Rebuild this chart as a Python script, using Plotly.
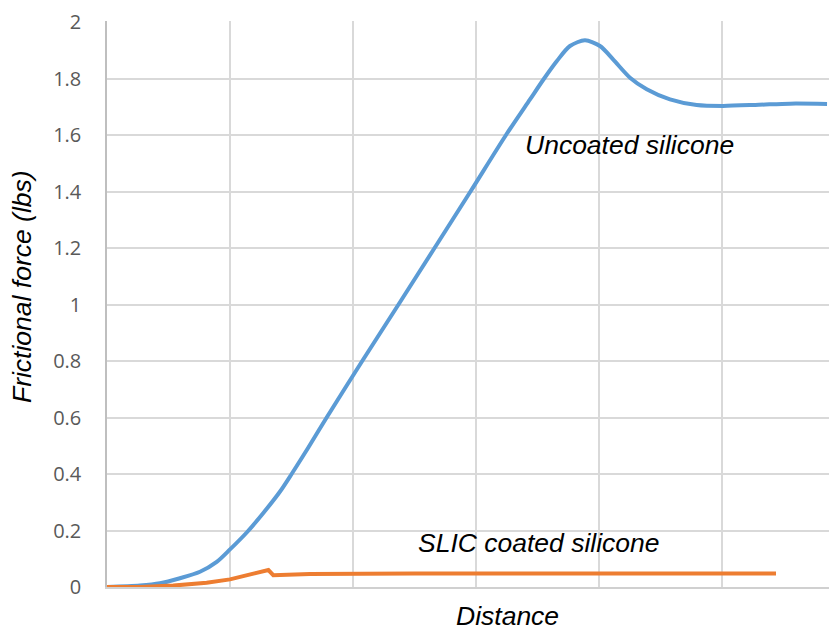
import plotly.graph_objects as go

# Data (x in gridline units, y in lbs)
uncoated_x = [0.0, 0.268, 0.431, 0.593, 0.756, 0.892, 1.0, 1.136, 1.271, 1.407, 1.501,
              1.637, 1.786, 2.075, 2.370, 2.663, 2.955, 3.244, 3.439, 3.554, 3.656,
              3.764, 3.886, 4.008, 4.116, 4.252, 4.388, 4.577, 4.794, 5.010, 5.300,
              5.553, 5.854]
uncoated_y = [0.0, 0.005, 0.013, 0.031, 0.054, 0.089, 0.133, 0.193, 0.262, 0.338, 0.400,
              0.494, 0.600, 0.800, 1.000, 1.200, 1.400, 1.600, 1.726, 1.800, 1.861,
              1.915, 1.935, 1.915, 1.867, 1.803, 1.762, 1.726, 1.706, 1.703, 1.707,
              1.711, 1.710]

slic_x = [0.0, 0.268, 0.539, 0.810, 1.0, 1.190, 1.312, 1.352, 1.650, 2.5, 3.5, 4.5, 5.439]
slic_y = [0.0, 0.0, 0.005, 0.015, 0.027, 0.045, 0.060, 0.042, 0.046, 0.048, 0.048, 0.047, 0.048]

y_tickvals = [0, 0.2, 0.4, 0.6, 0.8, 1, 1.2, 1.4, 1.6, 1.8, 2]
y_ticktext = ["0", "0.2", "0.4", "0.6", "0.8", "1", "1.2", "1.4", "1.6", "1.8", "2"]
x_gridvals = [1, 2, 3, 4, 5]

label_uncoated = "Uncoated silicone"
label_slic = "SLIC coated silicone"
x_title = "Distance"
y_title = "Frictional force (lbs)"

fig = go.Figure()
fig.add_trace(go.Scatter(x=uncoated_x, y=uncoated_y, mode="lines",
                         line=dict(color="#5b9bd5", width=4, shape="spline", smoothing=0.8),
                         showlegend=False, hoverinfo="skip"))
fig.add_trace(go.Scatter(x=slic_x, y=slic_y, mode="lines",
                         line=dict(color="#ed7d31", width=4),
                         showlegend=False, hoverinfo="skip"))

LAB = dict(family="Liberation Sans, Arial, sans-serif", size=26.5, color="#000000")

# page body has an 8px margin: figure spans 8..837 horizontally, 8..631 vertically
fig.update_layout(
    width=829, height=623,
    margin=dict(l=99, r=0, t=10, b=44),
    paper_bgcolor="white", plot_bgcolor="white",
    xaxis=dict(range=[0, 730 / 123], tickvals=x_gridvals, showticklabels=False,
               showgrid=True, gridcolor="#d9d9d9", gridwidth=1.5,
               showline=True, linecolor="#d0d0d0", linewidth=1.5,
               zeroline=False, ticks="", fixedrange=True),
    yaxis=dict(range=[0, 2 * 569 / 568], tickvals=y_tickvals, ticktext=y_ticktext,
               showgrid=True, gridcolor="#d9d9d9", gridwidth=1.5,
               showline=True, linecolor="#bfbfbf", linewidth=1.5,
               zeroline=False, ticks="", ticklabelstandoff=20, ticklabeloverflow="allow",
               tickfont=dict(family="Open Sans, sans-serif", size=20, color="#595959")),
    annotations=[
        dict(text=f"<i>{label_uncoated}</i>", x=(523 - 107) / 123, y=(587 - 143) / 284,
             xref="x", yref="y", xanchor="left", yanchor="middle", showarrow=False, font=LAB),
        dict(text=f"<i>{label_slic}</i>", x=(416 - 107) / 123, y=(587 - 543) / 284,
             xref="x", yref="y", xanchor="left", yanchor="middle", showarrow=False, font=LAB),
        dict(text=f"<i>{x_title}</i>", x=(507 - 107) / 730, y=(587 - 616) / 568,
             xref="paper", yref="paper", xanchor="center", yanchor="middle", showarrow=False, font=LAB),
        dict(text=f"<i>{y_title}</i>", x=(22 - 107) / 730, y=(587 - 286) / 568, textangle=-90,
             xref="paper", yref="paper", xanchor="center", yanchor="middle", showarrow=False, font=LAB),
    ],
)

fig.write_html("out.html")
